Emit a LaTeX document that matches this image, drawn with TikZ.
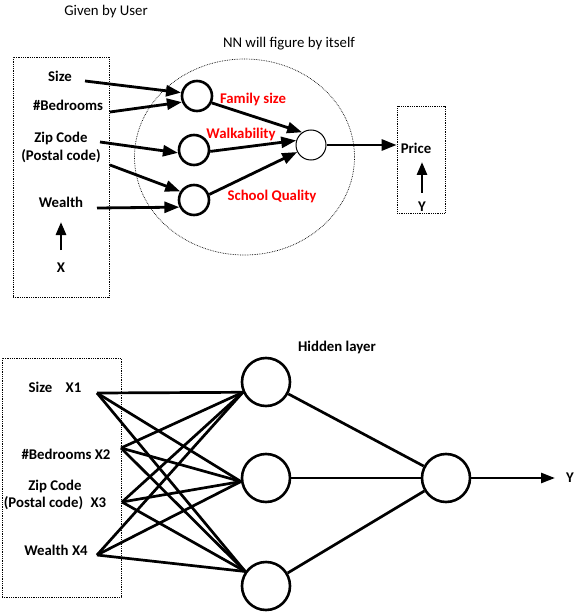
\documentclass[tikz,border=0pt]{standalone}
\usepackage{fontspec}
\setmainfont{Carlito}
\usetikzlibrary{arrows.meta}
\definecolor{lblred}{RGB}{255,0,0}
\tikzset{
  lbl/.style={font=\bfseries\fontsize{14.8}{17}\selectfont, inner sep=0pt, align=center},
  plain/.style={font=\fontsize{14.8}{17}\selectfont, inner sep=0pt},
  redlbl/.style={lbl, text=lblred},
  dotbox/.style={draw, densely dotted, line width=0.8pt},
  hid/.style={circle, draw, line width=2.6pt, minimum size=30pt, inner sep=0pt},
  outc/.style={circle, draw, line width=1pt, minimum size=30pt, inner sep=0pt},
  bighid/.style={circle, draw, line width=2.6pt, minimum size=48pt, inner sep=0pt},
  arr/.style={line width=2.8pt, -{Triangle[length=15pt,width=11pt]}},
  wire/.style={line width=2.7pt},
}
\begin{document}
\begin{tikzpicture}[x=1pt,y=-1pt]
\useasboundingbox (0,0) rectangle (576,612);
% ---------- top part ----------
\node[plain] (given) at (106,12) {Given by User};
\node[plain] (nn) at (289,44) {NN will figure by itself};
\node[dotbox, minimum width=96pt, minimum height=240pt, inner sep=0pt] (xbox) at (61,177) {};
\draw[dotbox, line width=0.7pt] (244.5,157) ellipse (110pt and 98pt);
\node[dotbox, minimum width=48pt, minimum height=107pt, inner sep=0pt] (ybox) at (421,159.5) {};

\node[lbl] (size) at (60,76) {Size};
\node[lbl] (bed) at (68,105) {\#Bedrooms};
\node[lbl] (zip) at (61,138) {Zip Code};
\node[lbl] (postal) at (61,156) {(Postal code)};
\node[lbl] (wealth) at (61,202) {Wealth};
\node[lbl] (xl) at (61,268) {X};
\node[lbl] (price) at (416,148) {Price};
\node[lbl] (yl) at (422,207) {Y};

\node[hid] (c1) at (197,96) {};
\node[hid] (c2) at (194,150) {};
\node[hid] (c3) at (194,200) {};
\node[outc] (o) at (311,145) {};

\node[redlbl] (fam) at (253,99) {Family size};
\node[redlbl] (walk) at (241,134) {Walkability};
\node[redlbl] (school) at (272,196) {School Quality};

\coordinate (s1) at (85,81);
\coordinate (s2) at (110,112);
\coordinate (s3) at (100,142);
\coordinate (s4) at (110,165);
\coordinate (s5) at (97,208);
\coordinate (xa) at (61,250);
\coordinate (xb) at (61,222);
\coordinate (ya) at (422,193);
\coordinate (yb) at (422,162);

\draw[arr] (s1) -- (c1.168);
\draw[arr] (s2) -- (c1.202);
\draw[arr] (s3) -- (c2.190);
\draw[arr] (s4) -- (c3.148);
\draw[arr] (s5) -- (c3.206);
\draw[arr] (c1.-25) -- (o.125);
\draw[arr] (c2.-5) -- (o.163);
\draw[arr] (c3.20) -- (o.207);
\draw[arr] (o.east) -- (ybox.west |- o.east);
\draw[arr, -{Triangle[length=13pt,width=10pt]}] (xa) -- (xb);
\draw[arr, -{Triangle[length=13pt,width=10pt]}] (ya) -- (yb);

% ---------- bottom part ----------
\node[dotbox, minimum width=119pt, minimum height=239pt, inner sep=0pt] (xbox2) at (61.5,477.5) {};
\node[lbl] (hl) at (337,347) {Hidden layer};
\node[lbl] (i1) at (55,387) {Size\hspace{0.9em}X1};
\node[lbl] (i2) at (66,454) {\#Bedrooms X2};
\node[lbl, align=center] (i3) at (55,495) {Zip Code\\(Postal code)\hspace{0.5em}X3};
\node[lbl] (i4) at (56,550) {Wealth X4};

\coordinate (p1) at (97,393);
\coordinate (p2) at (121,448);
\coordinate (p3) at (122,502);
\coordinate (p4) at (97,555);

\node[bighid] (h1) at (266,382) {};
\node[bighid] (h2) at (266,478) {};
\node[bighid] (h3) at (266,586) {};
\node[bighid] (out) at (446,478) {};
\node[lbl] (ylab) at (570,478) {Y};
\coordinate (yend) at (555,478);

\coordinate (t1) at (h1.204);
\coordinate (t2) at (h2.188);
\coordinate (t3) at (h3.145);
\foreach \p in {p1,p2,p3,p4}{
  \foreach \t in {t1,t2,t3}{
    \draw[wire] (\p) -- (\t);
  }
}
\draw[wire] (h1) -- (out);
\draw[wire] (h2) -- (out);
\draw[wire] (h3) -- (out);
\draw[wire, -{Triangle[length=14pt,width=10pt]}] (out.east) -- (yend);
\end{tikzpicture}
\end{document}
